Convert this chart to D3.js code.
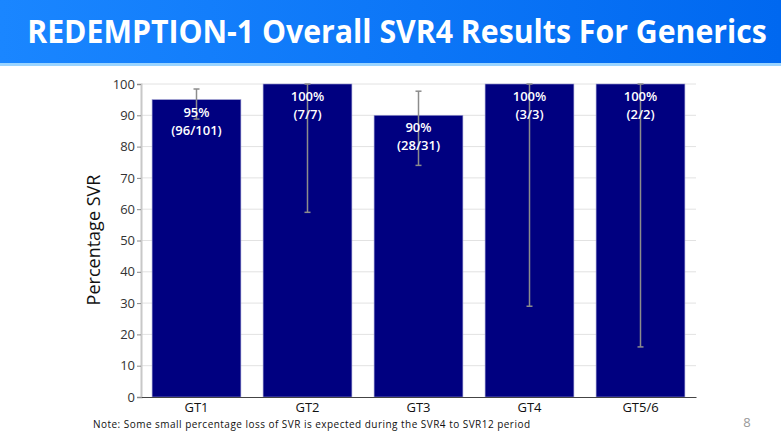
<!DOCTYPE html>
<html>
<head>
<meta charset="utf-8">
<script src="https://cdn.jsdelivr.net/npm/d3@7"></script>
<style>
  body { margin: 0; background: #fff; }
  svg { display: block; }
</style>
</head>
<body>
<svg id="svg"></svg>
<script>
// data
const genotypes = ["GT1", "GT2", "GT3", "GT4", "GT5/6"];
const svrPct = [95, 100, 90, 100, 100];
const ciLow = [88.8, 59, 74, 29, 16];
const ciHigh = [98.4, 100, 97.7, 100, 100];
const pctLabels = ["95%", "100%", "90%", "100%", "100%"];
const countLabels = ["(96/101)", "(7/7)", "(28/31)", "(3/3)", "(2/2)"];
const yTicks = [0, 10, 20, 30, 40, 50, 60, 70, 80, 90, 100];

const width = 781;
const height = 441;

let svg = d3.select("#svg").attr("width", width).attr("height", height);

// title banner
let defs = svg.append("defs");
let grad = defs.append("linearGradient").attr("id", "banner")
    .attr("x1", "0").attr("x2", "1").attr("y1", "0").attr("y2", "0");
grad.append("stop").attr("offset", "0").attr("stop-color", "#1a86ff");
grad.append("stop").attr("offset", "1").attr("stop-color", "#0068f0");

svg.append("rect").attr("x", 0).attr("y", 0).attr("width", width).attr("height", 63)
    .attr("fill", "url(#banner)");
svg.append("rect").attr("x", 0).attr("y", 63).attr("width", width).attr("height", 3)
    .attr("fill", "#9ad4ff");

// title is squeezed horizontally to the width it has on the slide
let title = svg.append("text")
    .attr("x", 0).attr("y", 0)
    .attr("text-anchor", "middle")
    .style("font-family", "'Open Sans', sans-serif")
    .style("font-weight", "bold")
    .style("font-size", "32px")
    .style("fill", "white")
    .text("REDEMPTION-1 Overall SVR4 Results For Generics");
let titleScale = Math.min(1, 740 / title.node().getComputedTextLength());
title.attr("transform", `translate(397,43) scale(${titleScale},1)`);

// chart area
const margin = { top: 84, right: 85, bottom: 44, left: 141 };
const chartWidth = width - margin.left - margin.right;
const chartHeight = height - margin.top - margin.bottom;

let chart = svg.append("g")
    .attr("transform", "translate(" + margin.left + "," + margin.top + ")");

let xScale = d3.scaleBand()
    .domain(genotypes)
    .range([0, chartWidth])
    .paddingInner(0.2)
    .paddingOuter(0.1);

let yScale = d3.scaleLinear()
    .domain([0, 100])
    .range([chartHeight, 0]);

// gridlines
chart.append("g")
    .selectAll("line")
    .data(yTicks.filter(t => t > 0))
    .join("line")
    .attr("x1", 0).attr("x2", chartWidth)
    .attr("y1", d => yScale(d)).attr("y2", d => yScale(d))
    .attr("stroke", "#e2e2e2")
    .attr("stroke-width", 1);

// y axis
let yAxis = chart.append("g")
    .call(d3.axisLeft(yScale).tickValues(yTicks).tickSize(4).tickPadding(2));
yAxis.select(".domain").attr("stroke", "#c8c8c8").attr("stroke-width", 2);
yAxis.selectAll(".tick line").attr("stroke", "#888");
yAxis.selectAll("text")
    .style("font-family", "'Open Sans', sans-serif")
    .style("font-size", "13px")
    .style("fill", "#333");

// bars
chart.selectAll(".bar")
    .data(genotypes)
    .join("rect")
    .attr("class", "bar")
    .attr("x", d => xScale(d))
    .attr("width", xScale.bandwidth())
    .attr("y", (d, i) => yScale(svrPct[i]))
    .attr("height", (d, i) => chartHeight - yScale(svrPct[i]))
    .attr("fill", "#000080")
    .attr("stroke", "#9a9ad0")
    .attr("stroke-width", 0.6);

// error bars
let err = chart.append("g");
genotypes.forEach((g, i) => {
    let cx = xScale(g) + xScale.bandwidth() / 2;
    err.append("line")
        .attr("x1", cx).attr("x2", cx)
        .attr("y1", yScale(ciHigh[i])).attr("y2", yScale(ciLow[i]))
        .attr("stroke", "#8c8c8c").attr("stroke-width", 1.5);
    [ciHigh[i], ciLow[i]].forEach(v => {
        err.append("line")
            .attr("x1", cx - 3).attr("x2", cx + 3)
            .attr("y1", yScale(v)).attr("y2", yScale(v))
            .attr("stroke", "#8c8c8c").attr("stroke-width", 1.5);
    });
});

// value labels inside bars
let labels = chart.append("g")
    .style("font-family", "'Open Sans', sans-serif")
    .style("font-size", "13px")
    .style("font-weight", "600")
    .style("fill", "white")
    .attr("text-anchor", "middle");
genotypes.forEach((g, i) => {
    let cx = xScale(g) + xScale.bandwidth() / 2;
    let top = yScale(svrPct[i]);
    labels.append("text").attr("x", cx).attr("y", top + 17).text(pctLabels[i]);
    labels.append("text").attr("x", cx).attr("y", top + 35).text(countLabels[i]);
});

// x axis
let xAxis = chart.append("g")
    .attr("transform", `translate(0,${chartHeight})`)
    .call(d3.axisBottom(xScale).tickSize(0).tickPadding(6));
xAxis.select(".domain").attr("stroke", "#444").attr("stroke-width", 1.2);
xAxis.selectAll("text")
    .style("font-family", "'Open Sans', sans-serif")
    .style("font-size", "13px")
    .style("fill", "#111");

// y axis title
svg.append("text")
    .attr("transform", "translate(100,240) rotate(-90)")
    .attr("text-anchor", "middle")
    .style("font-family", "'Open Sans', sans-serif")
    .style("font-size", "18px")
    .style("fill", "#111")
    .text("Percentage SVR");

// footnote
svg.append("text")
    .attr("x", 93).attr("y", 428)
    .attr("textLength", 437)
    .attr("lengthAdjust", "spacing")
    .style("font-family", "'Open Sans', sans-serif")
    .style("font-size", "10px")
    .style("fill", "#111")
    .text("Note: Some small percentage loss of SVR is expected during the SVR4 to SVR12 period");

// slide number
svg.append("text")
    .attr("x", 747).attr("y", 427)
    .attr("text-anchor", "middle")
    .style("font-family", "'Open Sans', sans-serif")
    .style("font-size", "13px")
    .style("fill", "#999")
    .text("8");
</script>
</body>
</html>
